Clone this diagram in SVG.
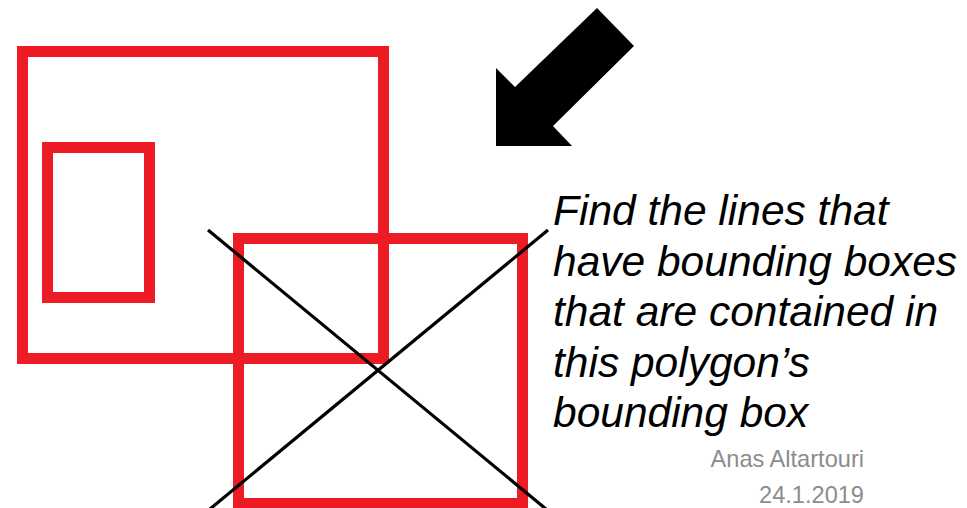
<svg xmlns="http://www.w3.org/2000/svg" width="967" height="508" viewBox="0 0 967 508">
<style>
.box{fill:none;stroke:#ED1C24;stroke-width:11}
.ln{stroke:#000;stroke-width:3.2;fill:none}
.cap{font-family:"Liberation Sans",Arial,sans-serif;font-style:italic;font-size:42.5px;fill:#000}
.meta{font-family:"Liberation Sans",Arial,sans-serif;font-size:23.6px;fill:#8c8c8c;text-anchor:end}
</style>
<rect width="967" height="508" fill="#fff"/>
<g id="outer-box"><rect class="box" x="22.5" y="51.5" width="361" height="307"/></g>
<g id="inner-box"><rect class="box" x="47.5" y="147.5" width="102" height="150"/></g>
<g id="polygon-box"><rect class="box" x="238.5" y="238.5" width="284" height="265"/></g>
<g id="connectors">
<line class="ln" x1="208" y1="230" x2="546" y2="509"/>
<line class="ln" x1="548" y1="230" x2="210" y2="509"/>
</g>
<g id="arrow"><polygon points="496,146 496,68 515,87 597,8 634,46 553,126 572,146" fill="#000"/></g>
<g id="caption">
<text class="cap" x="553" y="225">Find the lines that</text>
<text class="cap" x="553" y="275.5">have bounding boxes</text>
<text class="cap" x="553" y="326">that are contained in</text>
<text class="cap" x="553" y="376.5">this polygon’s</text>
<text class="cap" x="553" y="427">bounding box</text>
</g>
<g id="meta">
<text class="meta" x="864" y="467">Anas Altartouri</text>
<text class="meta" x="864" y="503">24.1.2019</text>
</g>
</svg>
